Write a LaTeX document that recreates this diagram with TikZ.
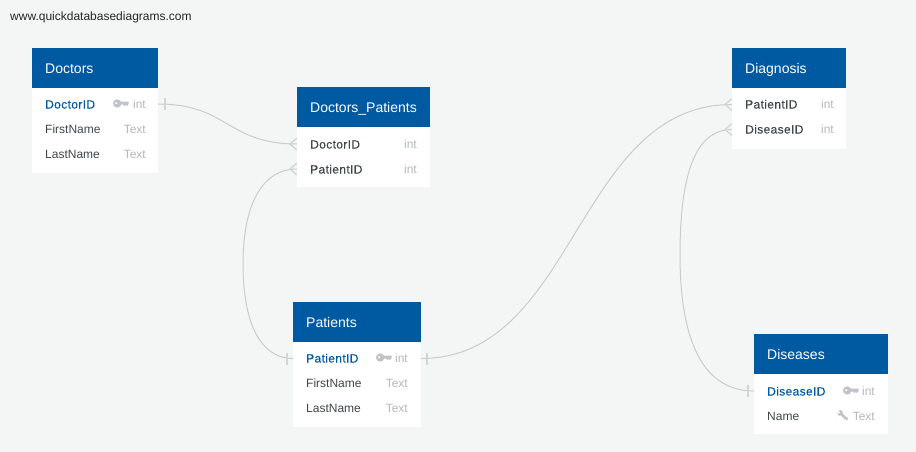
\documentclass[tikz,border=0pt]{standalone}
\usepackage{fontspec}
\setmainfont{Liberation Sans}
\newfontfamily\mediumface[FakeBold=0.25,LetterSpace=3.0]{Liberation Sans}
\usetikzlibrary{calc}
\definecolor{bgc}{HTML}{F4F6F6}
\definecolor{headc}{HTML}{005AA1}
\definecolor{darkc}{HTML}{3F464C}
\definecolor{grayc}{HTML}{B4B8BC}
\definecolor{iconc}{HTML}{BFC4CA}
\definecolor{linec}{HTML}{C9CCCB}
\definecolor{markc}{HTML}{D2D5D4}
\tikzset{
  x=1pt,y=-1pt,
  tablebody/.style={fill=white,draw=none,inner sep=0,outer sep=0},
  tablehead/.style={fill=headc,draw=none,inner sep=0,outer sep=0},
  titletext/.style={anchor=base west,inner sep=0,text=white,font=\fontsize{14}{14}\selectfont},
  pkname/.style={anchor=base west,inner sep=0,text=headc,font=\fontsize{12}{12}\selectfont\mediumface},
  fkname/.style={anchor=base west,inner sep=0,text=darkc,font=\fontsize{12}{12}\selectfont\mediumface},
  plainname/.style={anchor=base west,inner sep=0,text=darkc,font=\fontsize{12}{12}\selectfont},
  typetext/.style={anchor=base east,inner sep=0,text=grayc,font=\fontsize{12}{12}\selectfont},
  urltext/.style={anchor=base west,inner sep=0,text=black!85,font=\fontsize{12}{12}\selectfont},
  relline/.style={draw=linec,line width=1pt},
  endmark/.style={draw=markc,line width=1.3pt},
}
\newcommand{\dbtable}[6]{%
  \fill[tablebody] (#2,#5) rectangle (#4,#6);
  \fill[tablehead] (#2,#3) rectangle (#4,#5);
  \coordinate (#1-nw) at (#2,#3);
}
\newcommand{\keyicon}[2]{% left x, centre y
  \begin{scope}[shift={(#1,#2)}]
    \fill[iconc] (4.2,0) circle (4.2);
    \fill[white] (3.2,-0.3) circle (1.2);
    \fill[iconc] (6,-2) -- (15.5,-2) -- (15.5,0.6) -- (14,2.6) -- (12.8,1.2) -- (11.6,2.6) -- (10.4,1.2) -- (6,1.2) -- cycle;
  \end{scope}}
\newcommand{\wrenchicon}[2]{% left x, centre y
  \begin{scope}[shift={(#1,#2)}]
    \fill[iconc] (0,-2.6) -- (1.6,-1.2) -- (3,-2.4) -- (1.6,-4.6) -- (4.2,-4.8) -- (5.6,-3.2) -- (5.6,-1.4) -- (11.2,3.6) -- (9.4,5.6) -- (4,0.4) -- (1.8,0.8) -- cycle;
  \end{scope}}
\newcommand{\onebar}[2]{\draw[endmark] ($(#1)+(#2,-6)$) -- ($(#1)+(#2,6)$);}
\newcommand{\crowfoot}[1]{\draw[endmark] ($(#1)+(0,-6)$) -- ($(#1)+(-7,0)$) -- ($(#1)+(0,6)$);}
\begin{document}
\begin{tikzpicture}
\useasboundingbox (0,0) rectangle (916,452);
\fill[bgc] (0,0) rectangle (916,452);
\node[urltext] (url) at (10,20.5) {www.quickdatabasediagrams.com};

% anchors of the relations
\coordinate (docR) at (158,104);
\coordinate (dpDoc) at (297,144);
\coordinate (dpPat) at (297,169);
\coordinate (patL) at (293,358.5);
\coordinate (patR) at (421,358.5);
\coordinate (diaPat) at (732,104.5);
\coordinate (diaDis) at (732,129.5);
\coordinate (disL) at (754,391);

% relations
\draw[relline] (docR) .. controls (228,104) and (227,144) .. (dpDoc);
\draw[relline] (dpPat) .. controls (262,169) and (243,205) .. (243,264) .. controls (243,322) and (260,358.5) .. (patL);
\draw[relline] (patR) .. controls (576,358.5) and (576,104.5) .. (diaPat);
\draw[relline] (diaDis) .. controls (695,129.5) and (680,175) .. (680,255) .. controls (680,335) and (700,391) .. (disL);
\onebar{docR}{7}
\onebar{patL}{-6}
\onebar{patR}{6}
\onebar{disL}{-6}
\crowfoot{dpDoc}
\crowfoot{dpPat}
\crowfoot{diaPat}
\crowfoot{diaDis}

% Doctors
\dbtable{doctors}{32}{48}{158}{88}{173}
\node[titletext] (doctorsT) at (45,73.5) {Doctors};
\node[pkname] (doctorsA) at (45,108.5) {DoctorID};
\keyicon{113}{103.5}
\node[typetext] (doctorsAt) at (146,108.5) {int};
\node[plainname] (doctorsB) at (45,133.5) {FirstName};
\node[typetext] (doctorsBt) at (146,133.5) {Text};
\node[plainname] (doctorsC) at (45,158.5) {LastName};
\node[typetext] (doctorsCt) at (146,158.5) {Text};

% Doctors_Patients
\dbtable{dp}{297}{87}{430}{127}{187}
\node[titletext] (dpT) at (310,112.5) {Doctors\_Patients};
\node[fkname] (dpA) at (310,148.5) {DoctorID};
\node[typetext] (dpAt) at (417,148.5) {int};
\node[fkname] (dpB) at (310,173.5) {PatientID};
\node[typetext] (dpBt) at (417,173.5) {int};

% Patients
\dbtable{patients}{293}{302}{421}{342}{427}
\node[titletext] (patientsT) at (306,327.5) {Patients};
\node[pkname] (patientsA) at (306,362.5) {PatientID};
\keyicon{376}{357.5}
\node[typetext] (patientsAt) at (408,362.5) {int};
\node[plainname] (patientsB) at (306,387.5) {FirstName};
\node[typetext] (patientsBt) at (408,387.5) {Text};
\node[plainname] (patientsC) at (306,412.5) {LastName};
\node[typetext] (patientsCt) at (408,412.5) {Text};

% Diagnosis
\dbtable{diagnosis}{732}{48}{846}{88}{149}
\node[titletext] (diagnosisT) at (745,73.5) {Diagnosis};
\node[fkname] (diagnosisA) at (745,108.5) {PatientID};
\node[typetext] (diagnosisAt) at (834,108.5) {int};
\node[fkname] (diagnosisB) at (745,133.5) {DiseaseID};
\node[typetext] (diagnosisBt) at (834,133.5) {int};

% Diseases
\dbtable{diseases}{754}{334}{888}{374}{434}
\node[titletext] (diseasesT) at (767,359.5) {Diseases};
\node[pkname] (diseasesA) at (767,395.5) {DiseaseID};
\keyicon{843}{390.5}
\node[typetext] (diseasesAt) at (875,395.5) {int};
\node[plainname] (diseasesB) at (767,420.5) {Name};
\wrenchicon{837}{415}
\node[typetext] (diseasesBt) at (875,420.5) {Text};
\end{tikzpicture}
\end{document}
